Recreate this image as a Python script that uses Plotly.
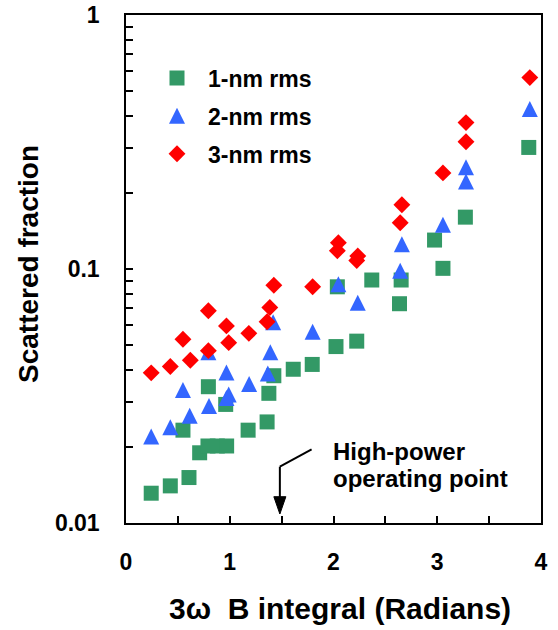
import plotly.graph_objects as go

# ---------------- data ----------------
x_1nm = [0.243, 0.427, 0.607, 0.710, 0.790, 0.880, 0.970, 0.549, 0.794, 0.961,
         1.177, 1.360, 1.377, 1.425, 1.612, 1.795, 2.024, 2.224, 2.037, 2.369,
         2.636, 2.652, 2.974, 3.055, 3.271, 3.882]
y_1nm = [0.0131, 0.0140, 0.0151, 0.0189, 0.0201, 0.0201, 0.0201, 0.0232, 0.0344, 0.0293,
         0.0232, 0.0250, 0.0324, 0.0380, 0.0403, 0.0421, 0.0495, 0.0520, 0.0851, 0.0905,
         0.0730, 0.0905, 0.130, 0.1006, 0.160, 0.301]

x_2nm = [0.243, 0.427, 0.614, 0.800, 0.549, 0.968, 0.990, 0.968, 1.187, 1.367,
         1.391, 1.418, 0.794, 1.799, 2.047, 2.234, 2.643, 2.659, 3.055, 3.277,
         3.277, 3.892]
y_2nm = [0.0217, 0.0236, 0.0262, 0.0286, 0.0331, 0.0308, 0.0318, 0.0388, 0.0349, 0.0384,
         0.0466, 0.0611, 0.0466, 0.0561, 0.0863, 0.0730, 0.0976, 0.124, 0.148, 0.219,
         0.249, 0.423]

x_3nm = [0.243, 0.427, 0.549, 0.620, 0.794, 0.794, 0.968, 0.990, 1.184, 1.360,
         1.386, 1.425, 1.799, 2.037, 2.047, 2.224, 2.234, 2.643, 2.659, 3.055,
         3.277, 3.277, 3.892]
y_3nm = [0.0390, 0.0413, 0.0529, 0.0437, 0.0685, 0.0477, 0.0597, 0.0513, 0.0558, 0.0620,
         0.0705, 0.0863, 0.0851, 0.118, 0.127, 0.108, 0.1125, 0.152, 0.179, 0.239,
         0.317, 0.377, 0.567]

series_names = ["1-nm rms", "2-nm rms", "3-nm rms"]
x_ticks = [0, 1, 2, 3, 4]
x_ticktext = ["0", "1", "2", "3", "4"]
x_minor = [0.5, 1.5, 2.5, 3.5]
y_ticks = [0.01, 0.1, 1]
y_ticktext = ["0.01", "0.1", "1"]
y_minor = [0.02, 0.03, 0.04, 0.05, 0.06, 0.07, 0.08, 0.09,
           0.2, 0.3, 0.4, 0.5, 0.6, 0.7, 0.8, 0.9]

FONT = "Arial, 'Liberation Sans', sans-serif"
GREEN = "#339966"
BLUE = "#3366FF"
RED = "#FF0000"

fig = go.Figure()
fig.add_trace(go.Scatter(x=x_1nm, y=y_1nm, mode="markers", name=series_names[0],
                         legendgroup="a",
                         marker=dict(symbol="square", size=15, color=GREEN)))
# triangles: arrow-down rotated 180deg and shifted so the marker is centred on its point
fig.add_trace(go.Scatter(x=x_2nm, y=y_2nm, mode="markers", name=series_names[1],
                         legendgroup="b", showlegend=False,
                         marker=dict(symbol="arrow-down", angle=180, standoff=9,
                                     size=16, color=BLUE)))
# legend entry for the triangles (legend negates standoff, so use arrow-up here)
fig.add_trace(go.Scatter(x=[None], y=[None], mode="markers", name=series_names[1],
                         legendgroup="b", showlegend=True,
                         marker=dict(symbol="arrow-up", angle=0, standoff=8,
                                     size=16, color=BLUE)))
fig.add_trace(go.Scatter(x=x_3nm, y=y_3nm, mode="markers", name=series_names[2],
                         legendgroup="c",
                         marker=dict(symbol="diamond", size=13, color=RED)))

axis_common = dict(
    ticks="inside", ticklen=7, tickwidth=1.5, tickcolor="black",
    showline=True, linecolor="black", linewidth=1.5, mirror=True,
    showgrid=False, zeroline=False, automargin=False,
    tickfont=dict(size=23, family=FONT, color="black", weight="bold"),
)

fig.update_xaxes(range=[0, 4], tickmode="array", tickvals=x_ticks, ticktext=x_ticktext,
                 ticklabelstandoff=18,
                 minor=dict(tickmode="array", tickvals=x_minor, ticks="inside", ticklen=7,
                            tickwidth=1.5, tickcolor="black", showgrid=False),
                 **axis_common)
fig.update_yaxes(type="log", range=[-2, 0], tickmode="array", tickvals=y_ticks,
                 ticktext=y_ticktext, ticklabelstandoff=20,
                 minor=dict(tickmode="array", tickvals=y_minor, ticks="inside", ticklen=7,
                            tickwidth=1.5, tickcolor="black", showgrid=False),
                 **axis_common)

# plot-area pixel helpers for decoration placement
L, R, T, B = 126, 541, 15, 523
def px_x(p):
    return (p - L) / (R - L)
def py_y(p):
    return (B - p) / (B - T)

annotations = [
    dict(text="Scattered fraction", xref="paper", yref="paper",
         x=px_x(28), y=py_y(264), textangle=-90, showarrow=False,
         xanchor="center", yanchor="middle",
         font=dict(size=28, family=FONT, color="black", weight="bold")),
    dict(text="3ω  B integral (Radians)", xref="paper", yref="paper",
         x=px_x(340), y=py_y(608), showarrow=False,
         xanchor="center", yanchor="middle",
         font=dict(size=30, family=FONT, color="black", weight="bold")),
    dict(text="High-power", xref="paper", yref="paper",
         x=px_x(331), y=py_y(451), showarrow=False,
         xanchor="left", yanchor="middle",
         font=dict(size=24, family=FONT, color="black", weight="bold")),
    dict(text="operating point", xref="paper", yref="paper",
         x=px_x(331), y=py_y(478), showarrow=False,
         xanchor="left", yanchor="middle",
         font=dict(size=24, family=FONT, color="black", weight="bold")),
]

# arrow pointing at the high-power operating point (x ~ 1.48)
ax_tip = 1.483
shapes = [
    dict(type="line", xref="x", yref="paper", x0=1.789, y0=py_y(449.3),
         x1=ax_tip, y1=py_y(466.7), line=dict(color="black", width=2)),
    dict(type="line", xref="x", yref="paper", x0=ax_tip, y0=py_y(466.7),
         x1=ax_tip, y1=py_y(498), line=dict(color="black", width=2)),
    dict(type="path", xref="x", yref="paper",
         path=f"M {1.425} {py_y(496.7)} L {1.541} {py_y(496.7)} L {ax_tip} {py_y(514)} Z",
         fillcolor="black", line=dict(color="black", width=1)),
]

fig.update_layout(
    width=558, height=630,
    margin=dict(l=L, r=558 - R, t=T, b=630 - B, autoexpand=False),
    paper_bgcolor="white", plot_bgcolor="white",
    font=dict(family=FONT, color="black"),
    showlegend=True,
    legend=dict(x=px_x(146), y=py_y(56.5), xanchor="left", yanchor="top",
                bgcolor="rgba(0,0,0,0)", borderwidth=0,
                font=dict(size=23, family=FONT, color="black", weight="bold"),
                itemwidth=52, tracegroupgap=5),
    annotations=annotations,
    shapes=shapes,
)

fig.write_html("out.html")
